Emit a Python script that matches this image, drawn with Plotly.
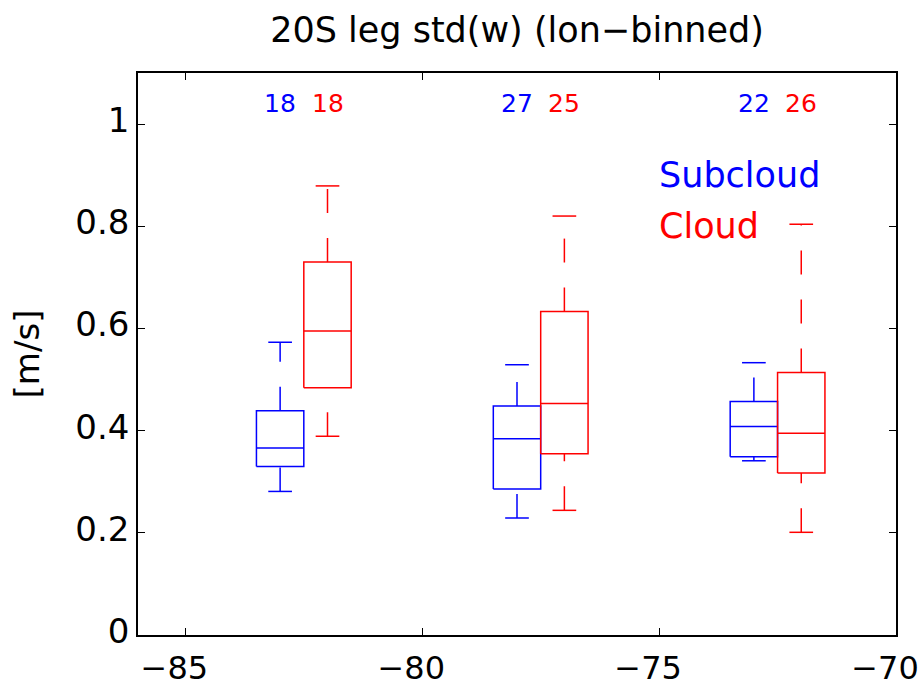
import plotly.graph_objects as go

# ---------------- data ----------------
chart_title = "20S leg std(w) (lon\u2212binned)"
y_label = "[m/s]"
series_names = ["Subcloud", "Cloud"]
series_colors = ["#0000ff", "#ff0000"]

sub_pos = [-83, -78, -73]
sub_lower = [0.281, 0.229, 0.341]
sub_q1 = [0.330, 0.286, 0.349]
sub_med = [0.366, 0.384, 0.408]
sub_q3 = [0.439, 0.448, 0.457]
sub_upper = [0.573, 0.529, 0.533]
sub_n = [18, 27, 22]

cld_pos = [-82, -77, -72]
cld_lower = [0.389, 0.244, 0.201]
cld_q1 = [0.484, 0.355, 0.317]
cld_med = [0.595, 0.453, 0.395]
cld_q3 = [0.730, 0.633, 0.514]
cld_upper = [0.879, 0.820, 0.804]
cld_n = [18, 25, 26]

x_ticks = [-85, -80, -75, -70]
y_ticks = [0, 0.2, 0.4, 0.6, 0.8, 1.0]
y_tick_text = ["0", "0.2", "0.4", "0.6", "0.8", "1"]

# ---------------- styling ----------------
FONT = "DejaVu Sans, sans-serif"
BIG = 34
HALF_W = 0.5
CAP_W = 0.25
LW = 1.5
DASH = "24px,25px"

fig = go.Figure()

def add_series(pos, lo, q1, med, q3, up, color):
    for x, a, b, m, c, d in zip(pos, lo, q1, med, q3, up):
        # box
        fig.add_trace(go.Scatter(
            x=[x - HALF_W, x + HALF_W, x + HALF_W, x - HALF_W, x - HALF_W],
            y=[b, b, c, c, b], mode="lines",
            line=dict(color=color, width=LW), showlegend=False, hoverinfo="skip"))
        # median
        fig.add_trace(go.Scatter(
            x=[x - HALF_W, x + HALF_W], y=[m, m], mode="lines",
            line=dict(color=color, width=LW), showlegend=False, hoverinfo="skip"))
        # whiskers (dashed), drawn from lower to higher value
        fig.add_trace(go.Scatter(
            x=[x, x], y=[a, b], mode="lines",
            line=dict(color=color, width=LW, dash=DASH), showlegend=False, hoverinfo="skip"))
        fig.add_trace(go.Scatter(
            x=[x, x], y=[c, d], mode="lines",
            line=dict(color=color, width=LW, dash=DASH), showlegend=False, hoverinfo="skip"))
        # caps
        for v in (a, d):
            fig.add_trace(go.Scatter(
                x=[x - CAP_W, x + CAP_W], y=[v, v], mode="lines",
                line=dict(color=color, width=LW), showlegend=False, hoverinfo="skip"))

add_series(sub_pos, sub_lower, sub_q1, sub_med, sub_q3, sub_upper, series_colors[0])
add_series(cld_pos, cld_lower, cld_q1, cld_med, cld_q3, cld_upper, series_colors[1])

# sample counts
for x, n in zip(sub_pos, sub_n):
    fig.add_annotation(x=x, y=1.04, text=str(n), showarrow=False,
                       font=dict(family=FONT, size=25, color=series_colors[0]),
                       xanchor="center", yanchor="middle")
for x, n in zip(cld_pos, cld_n):
    fig.add_annotation(x=x, y=1.04, text=str(n), showarrow=False,
                       font=dict(family=FONT, size=25, color=series_colors[1]),
                       xanchor="center", yanchor="middle")

# text legend
fig.add_annotation(x=-75, y=0.9, text=series_names[0], showarrow=False,
                   font=dict(family=FONT, size=35, color=series_colors[0]),
                   xanchor="left", yanchor="middle", xshift=-2)
fig.add_annotation(x=-75, y=0.8, text=series_names[1], showarrow=False,
                   font=dict(family=FONT, size=35, color=series_colors[1]),
                   xanchor="left", yanchor="middle", xshift=-2)

axis_common = dict(
    showline=True, linecolor="black", linewidth=1.5, mirror="ticks",
    ticks="inside", ticklen=7, tickwidth=1.2, tickcolor="black",
    showgrid=False, zeroline=False, ticklabeloverflow="allow", automargin=False,
)

fig.update_layout(
    width=920, height=690,
    margin=dict(l=138, r=24, t=73, b=55, autoexpand=False),
    paper_bgcolor="white", plot_bgcolor="white",
    title=dict(text=chart_title, x=0.562, xanchor="center", y=1 - 30 / 690,
               yanchor="middle", yref="container", automargin=False,
               font=dict(family=FONT, size=35, color="black")),
    xaxis=dict(range=[-86, -70], tickvals=x_ticks, ticklabelstandoff=4,
               ticklabelshift=-11,
               tickfont=dict(family=FONT, size=32, color="black"), **axis_common),
    yaxis=dict(range=[0, 1.1], tickvals=y_ticks, ticktext=y_tick_text,
               ticklabelshift=-4,
               tickfont=dict(family=FONT, size=BIG, color="black"),
               title=dict(text=y_label, font=dict(family=FONT, size=BIG, color="black"),
                          standoff=25),
               **axis_common),
    showlegend=False,
)

fig.write_html("out.html")
